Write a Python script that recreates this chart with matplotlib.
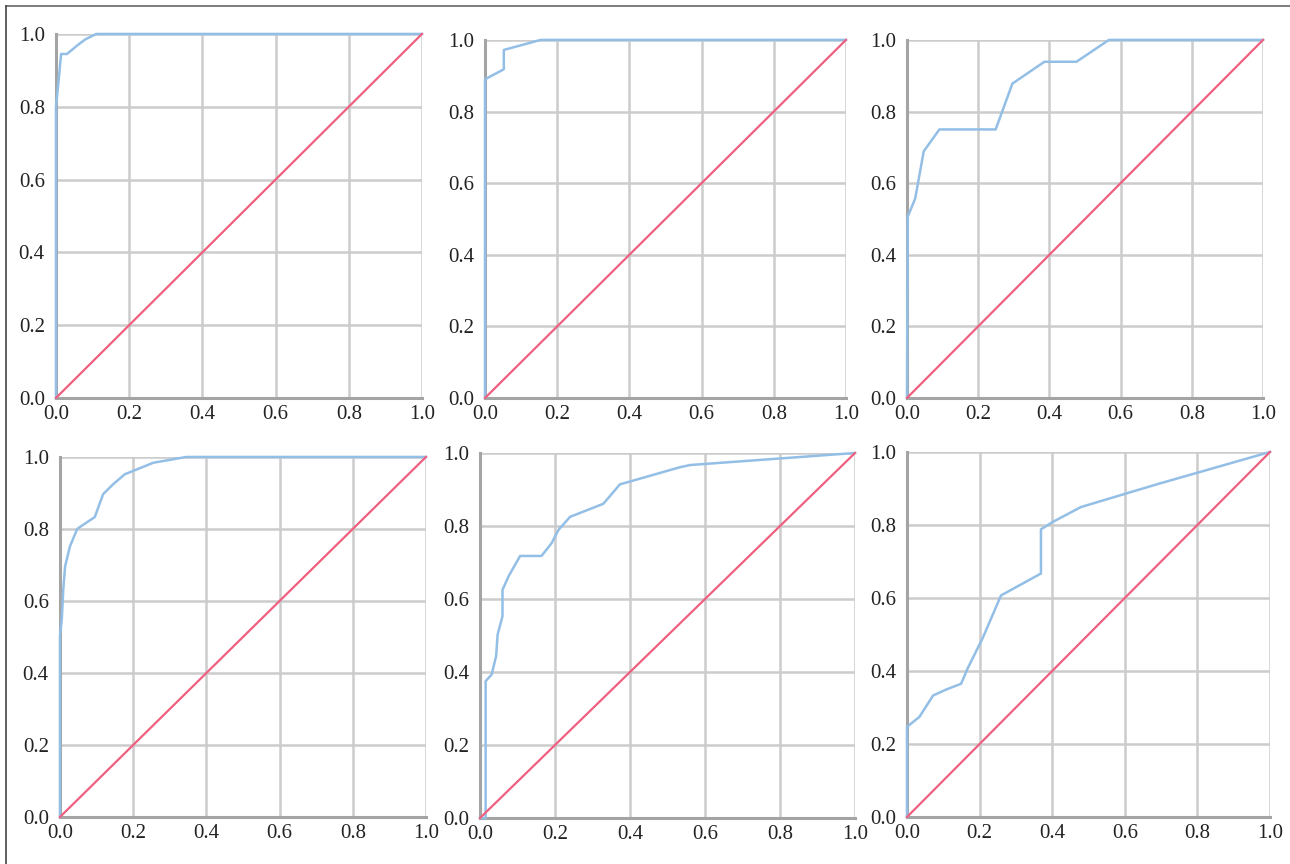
import numpy as np
import matplotlib.pyplot as plt
from matplotlib.lines import Line2D

# krzywe ROC (FPR, TPR)
fpr_1 = [0, 0, 0.008, 0.014, 0.03, 0.06, 0.08, 0.11, 1.0]
tpr_1 = [0, 0.8, 0.88, 0.945, 0.945, 0.97, 0.985, 1.0, 1.0]

fpr_2 = [0, 0, 0.052, 0.052, 0.154, 1.0]
tpr_2 = [0, 0.89, 0.918, 0.972, 1.0, 1.0]

fpr_3 = [0, 0.002, 0.023, 0.047, 0.091, 0.249, 0.296, 0.386, 0.476, 0.567, 1.0]
tpr_3 = [0, 0.506, 0.557, 0.689, 0.75, 0.75, 0.878, 0.939, 0.939, 1.0, 1.0]

fpr_4 = [0, 0, 0.005, 0.009, 0.014, 0.027, 0.047, 0.064, 0.095, 0.118, 0.145,
         0.177, 0.209, 0.255, 0.345, 1.0]
tpr_4 = [0, 0.504, 0.55, 0.632, 0.696, 0.751, 0.8, 0.812, 0.833, 0.897, 0.924,
         0.952, 0.965, 0.984, 1.0, 1.0]

fpr_5 = [0, 0.015, 0.015, 0.031, 0.043, 0.047, 0.060, 0.060, 0.076, 0.107, 0.164,
         0.191, 0.209, 0.240, 0.329, 0.373, 0.533, 0.56, 1.0]
tpr_5 = [0, 0.0, 0.375, 0.393, 0.444, 0.503, 0.553, 0.625, 0.662, 0.718, 0.718,
         0.753, 0.789, 0.825, 0.861, 0.914, 0.961, 0.967, 1.0]

fpr_6 = [0, 0, 0.034, 0.072, 0.11, 0.149, 0.167, 0.208, 0.259, 0.369, 0.369,
         0.401, 0.479, 0.603, 0.694, 1.0]
tpr_6 = [0, 0.247, 0.274, 0.333, 0.35, 0.365, 0.407, 0.489, 0.607, 0.667, 0.788,
         0.808, 0.849, 0.886, 0.913, 1.0]

curves = [(fpr_1, tpr_1), (fpr_2, tpr_2), (fpr_3, tpr_3),
          (fpr_4, tpr_4), (fpr_5, tpr_5), (fpr_6, tpr_6)]

# polozenie osi w ulamkach figury [left, bottom, width, height]
positions = [
    [0.0434, 0.5394, 0.2837, 0.4213],
    [0.3760, 0.5394, 0.2798, 0.4144],
    [0.7031, 0.5394, 0.2760, 0.4144],
    [0.0465, 0.0544, 0.2837, 0.4167],
    [0.3721, 0.0532, 0.2907, 0.4225],
    [0.7031, 0.0544, 0.2814, 0.4225],
]

ticks = [0.0, 0.2, 0.4, 0.6, 0.8, 1.0]
blue = '#93bfe6'
red = '#ef5f7f'

plt.rcParams['font.family'] = ['Liberation Serif', 'DejaVu Serif']

fig = plt.figure(figsize=(12.9, 8.64), dpi=100)

for (fpr, tpr), pos in zip(curves, positions):
    ax = fig.add_axes(pos)
    ax.plot(fpr, tpr, color=blue, lw=1.8, zorder=3, clip_on=False)
    ax.plot([0, 1], [0, 1], color=red, lw=1.6, zorder=3, clip_on=False)
    ax.set_xlim(0, 1)
    ax.set_ylim(0, 1)
    ax.set_xticks(ticks)
    ax.set_yticks(ticks)
    ax.set_xticklabels([f'{t:.1f}' for t in ticks])
    ax.set_yticklabels([f'{t:.1f}' for t in ticks])
    ax.tick_params(length=0, labelsize=15, colors='#222222', pad=5)
    ax.tick_params(axis='y', pad=8)
    ax.grid(True, color='#cccccc', lw=1.8)
    ax.set_axisbelow(True)
    for s in ['top', 'right']:
        ax.spines[s].set_visible(False)
    for s in ['left', 'bottom']:
        ax.spines[s].set_color('#a4a4a4')
        ax.spines[s].set_linewidth(2.2)

# ramka (gorna i lewa krawedz)
fig.add_artist(Line2D([6 / 1290, 1], [1 - 6 / 864, 1 - 6 / 864], color='#666666', lw=1.2))
fig.add_artist(Line2D([6 / 1290, 6 / 1290], [0, 1 - 6 / 864], color='#444444', lw=1.2))

fig.savefig('out.png', dpi=100)
